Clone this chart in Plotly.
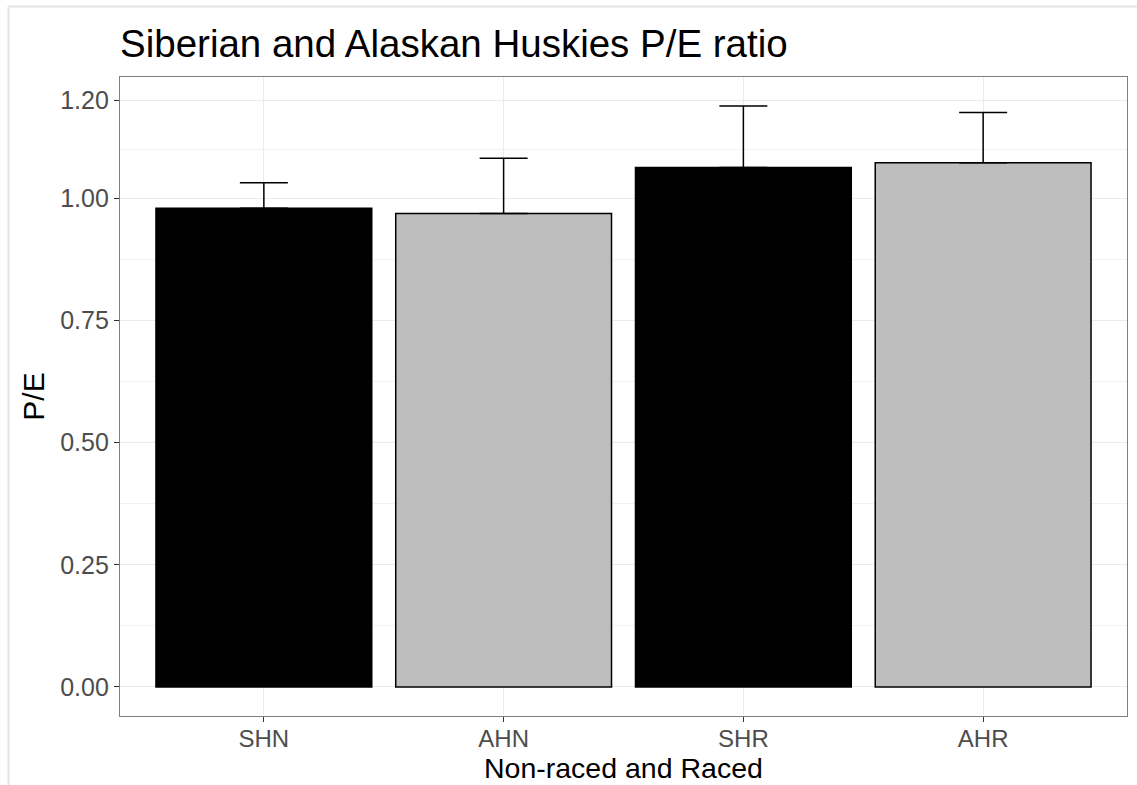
import plotly.graph_objects as go

categories = ["SHN", "AHN", "SHR", "AHR"]
pe_mean = [0.980, 0.969, 1.063, 1.073]
pe_err = [0.052, 0.113, 0.126, 0.103]
bar_fill = ["#000000", "#BEBEBE", "#000000", "#BEBEBE"]
y_ticks = [0.0, 0.25, 0.5, 0.75, 1.0, 1.2]
y_ticklabels = ["0.00", "0.25", "0.50", "0.75", "1.00", "1.20"]
y_minor = [0.125, 0.375, 0.625, 0.875, 1.1]

W, H = 1137, 785
ML, MR, MT, MB = 120, 10, 77, 69

top = max(m + e for m, e in zip(pe_mean, pe_err))
pad = 0.05 * top

fig = go.Figure()
fig.add_trace(go.Bar(
    x=categories, y=pe_mean, width=0.9,
    marker=dict(color=bar_fill, line=dict(color="#000000", width=1.5)),
    error_y=dict(type="data", symmetric=False, array=pe_err,
                 arrayminus=[0] * len(pe_err), color="#000000",
                 thickness=1.5, width=24),
    showlegend=False,
))

font = "Liberation Sans, Arial, Helvetica, sans-serif"
pw = W - ML - MR
ph = H - MT - MB

fig.update_layout(
    width=W, height=H,
    margin=dict(l=ML, r=MR, t=MT, b=MB, autoexpand=False),
    paper_bgcolor="white", plot_bgcolor="white",
    font=dict(family=font, color="#000000"),
    title=dict(text="Siberian and Alaskan Huskies P/E ratio",
               font=dict(size=38.5, color="#000000", family=font),
               x=0, xref="paper", xanchor="left",
               y=1 - 44 / H, yref="container", yanchor="middle"),
    xaxis=dict(
        range=[-0.6, 3.6], showgrid=True, gridcolor="#EBEBEB", gridwidth=1.2,
        ticks="outside", ticklen=5, tickcolor="#333333", tickwidth=1.1,
        tickfont=dict(size=24, color="#4D4D4D", family=font),
        ticklabelstandoff=-4,
        showline=True, linecolor="#7F7F7F", linewidth=1.2, mirror=True,
        zeroline=False, automargin=False,
    ),
    yaxis=dict(
        range=[-pad, top + pad],
        tickvals=y_ticks, ticktext=y_ticklabels,
        showgrid=True, gridcolor="#EBEBEB", gridwidth=1.2,
        minor=dict(tickvals=y_minor, showgrid=True, gridcolor="#F2F2F2",
                   gridwidth=1, ticks=""),
        ticks="outside", ticklen=5, tickcolor="#333333", tickwidth=1.1,
        tickfont=dict(size=25, color="#4D4D4D", family=font),
        showline=True, linecolor="#7F7F7F", linewidth=1.2, mirror=True,
        zeroline=False, automargin=False,
        title=dict(text="P/E", standoff=6,
                   font=dict(size=30, color="#000000", family=font)),
    ),
    annotations=[
        dict(text="Non-raced and Raced", xref="paper", yref="paper",
             x=0.5, xanchor="center",
             y=-(768 - (H - MB)) / ph, yanchor="middle",
             showarrow=False,
             font=dict(size=28.5, color="#000000", family=font)),
    ],
    shapes=[
        dict(type="line", xref="paper", yref="paper",
             x0=(8.5 - ML) / pw, x1=(W - ML) / pw,
             y0=(H - MB - 6.5) / ph, y1=(H - MB - 6.5) / ph,
             line=dict(color="#E3E3E3", width=2), layer="below"),
        dict(type="line", xref="paper", yref="paper",
             x0=(8.5 - ML) / pw, x1=(8.5 - ML) / pw,
             y0=(H - MB - 6.5) / ph, y1=-MB / ph,
             line=dict(color="#E3E3E3", width=2), layer="below"),
    ],
)

fig.write_html("out.html")
